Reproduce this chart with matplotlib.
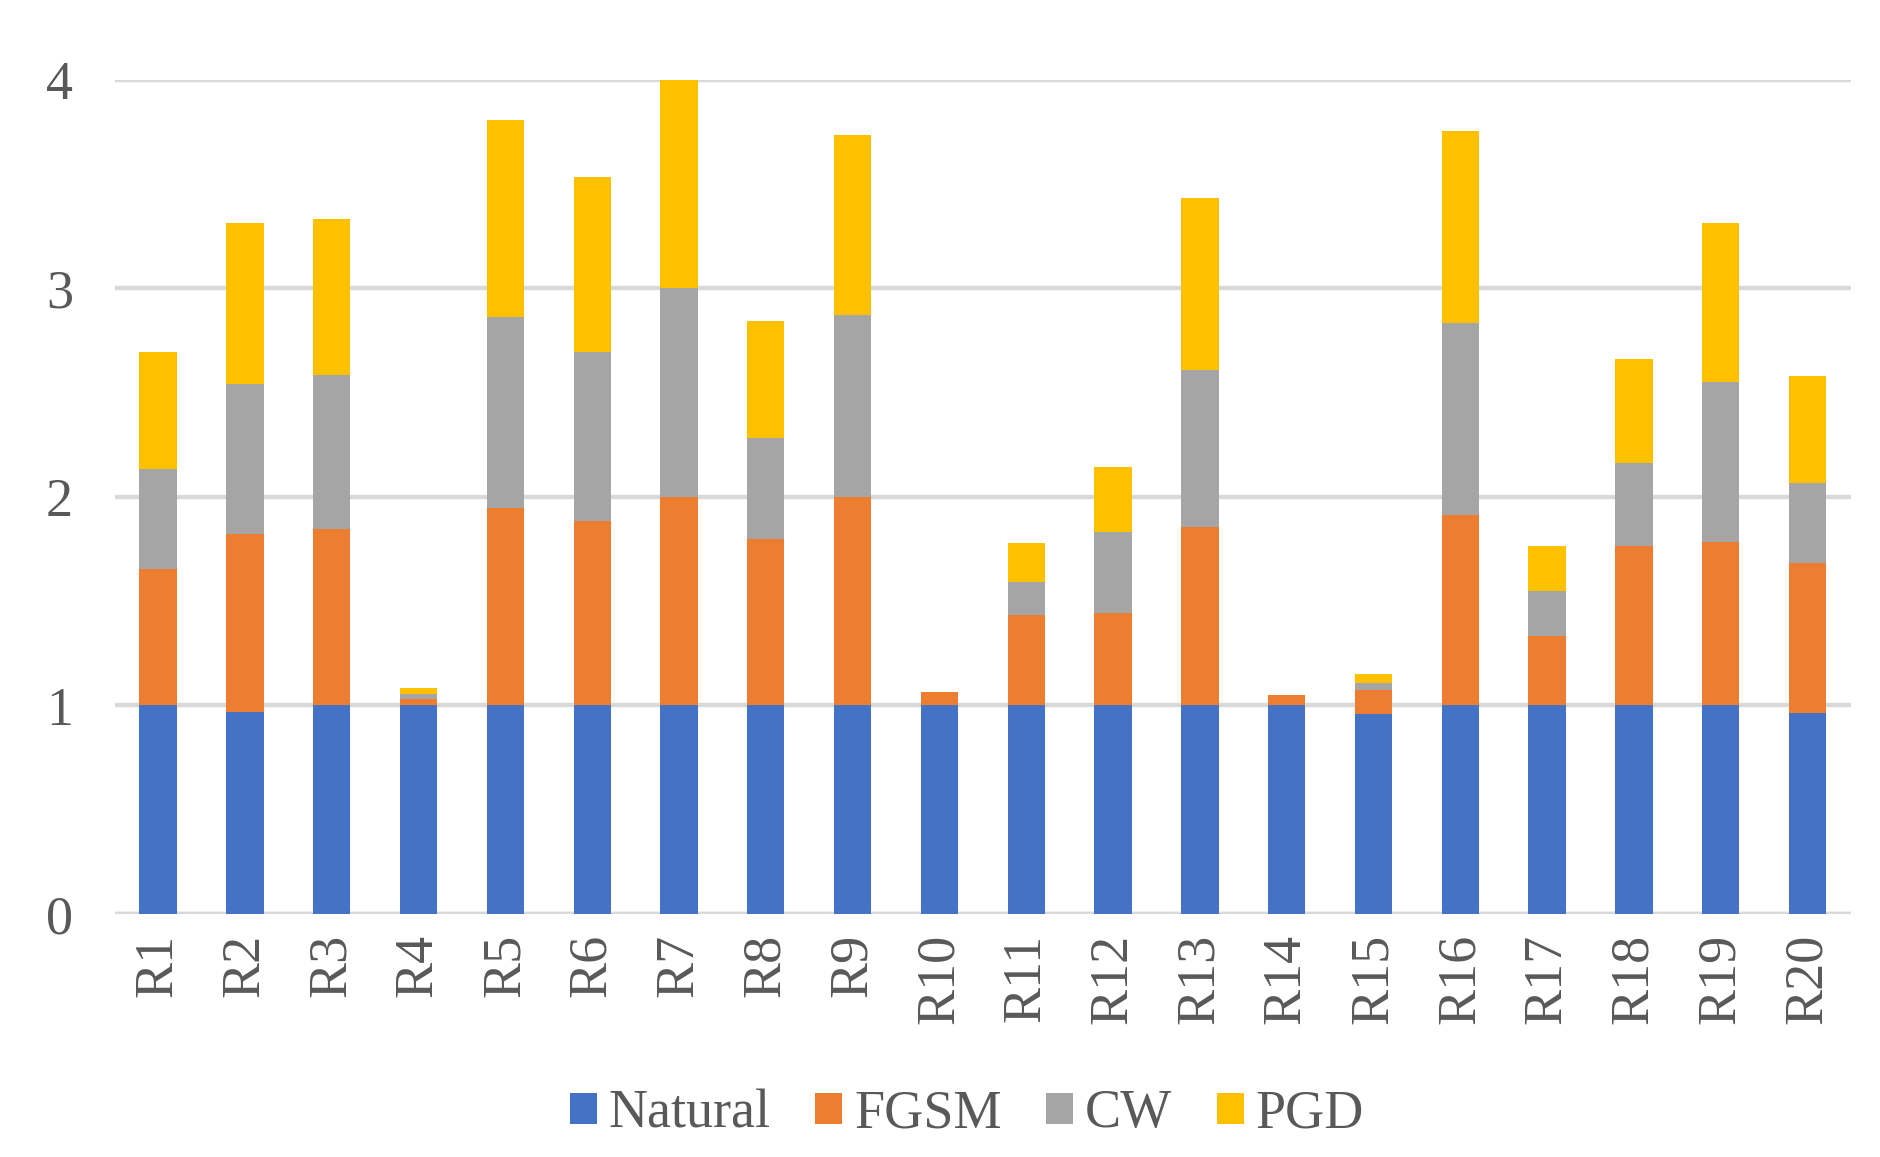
import matplotlib
matplotlib.use("Agg")
from matplotlib import pyplot as plt
import numpy as np

labels = ["R%d" % i for i in range(1, 21)]
natural = [1.00, 0.97, 1.00, 1.00, 1.00, 1.00, 1.00, 1.00, 1.00, 1.00,
           1.00, 1.00, 1.00, 1.00, 0.96, 1.00, 1.00, 1.00, 1.00, 0.965]
fgsm = [0.653, 0.85, 0.844, 0.03, 0.948, 0.884, 1.00, 0.798, 1.00, 0.064,
        0.434, 0.445, 0.855, 0.052, 0.115, 0.913, 0.335, 0.763, 0.786, 0.717]
cw = [0.48, 0.72, 0.74, 0.023, 0.913, 0.81, 1.00, 0.485, 0.873, 0.0,
      0.156, 0.387, 0.752, 0.0, 0.035, 0.919, 0.214, 0.399, 0.763, 0.387]
pgd = [0.56, 0.775, 0.75, 0.03, 0.948, 0.838, 1.00, 0.561, 0.861, 0.0,
       0.19, 0.313, 0.827, 0.0, 0.04, 0.925, 0.214, 0.497, 0.763, 0.509]

series = [("Natural", natural, "#4472C4"),
          ("FGSM", fgsm, "#ED7D31"),
          ("CW", cw, "#A5A5A5"),
          ("PGD", pgd, "#FFC000")]

plt.rcParams['font.family'] = ['Liberation Serif', 'DejaVu Serif']

fig = plt.figure(figsize=(18.81, 11.57), dpi=100)
ax = fig.add_axes([0.061, 0.21, 0.923, 0.721])

x = np.arange(len(labels))
bottom = np.zeros(len(labels))
for name, vals, color in series:
    ax.bar(x, vals, 0.43, bottom=bottom, color=color, label=name, zorder=3)
    bottom = bottom + np.array(vals)

ax.set_xlim(-0.5, len(labels) - 0.5)
ax.set_ylim(0, 4)
ax.set_yticks([0, 1, 2, 3, 4])
ax.yaxis.grid(True, color="#D9D9D9", linewidth=3.2, zorder=0)
ax.set_axisbelow(True)
for s in ax.spines.values():
    s.set_visible(False)
ax.axhline(0, color="#D9D9D9", linewidth=3.2, zorder=2)

ax.set_xticks(x)
ax.set_xticklabels(labels, rotation=90)
ax.tick_params(axis='both', length=0, labelsize=39, labelcolor="#595959")
ax.tick_params(axis='x', pad=14)
ax.tick_params(axis='y', pad=30)

fig.legend(loc="center", bbox_to_anchor=(0.514, 0.037), ncol=4, frameon=False,
           fontsize=39, labelcolor="#595959", handlelength=0.5, handleheight=0.5,
           handletextpad=0.22, columnspacing=0.82)

fig.savefig("out.png", dpi=100)
